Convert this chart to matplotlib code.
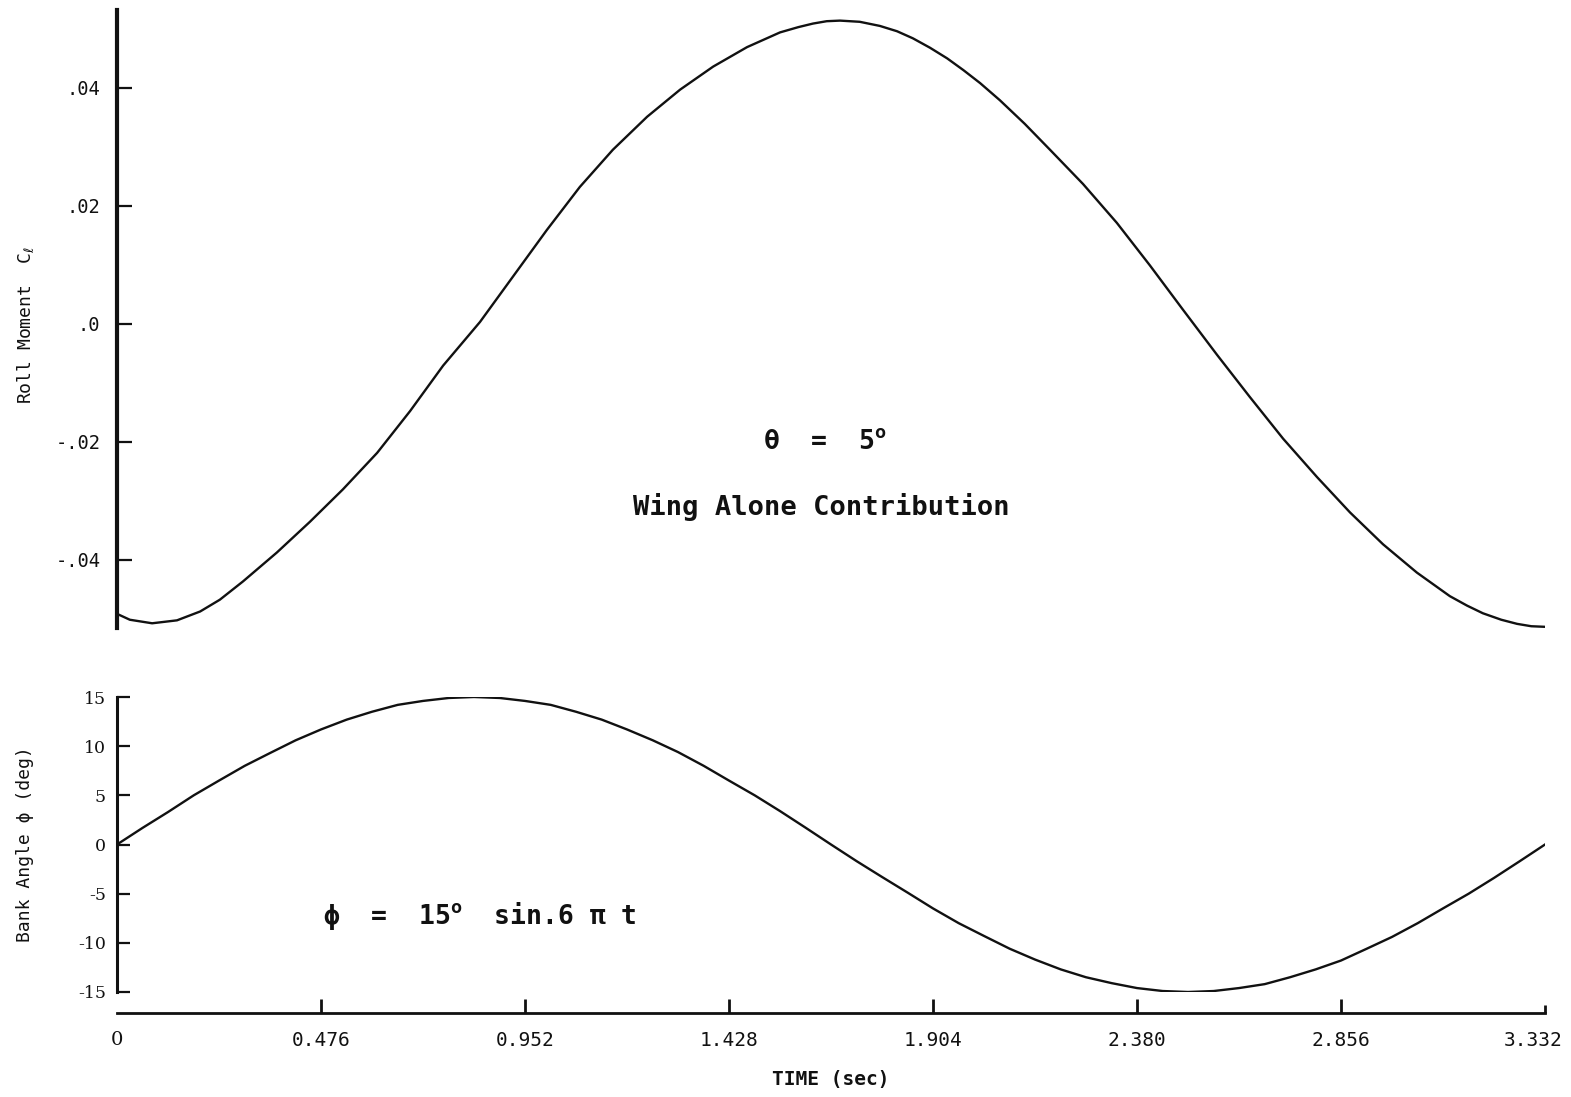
import matplotlib
matplotlib.use("Agg")
import matplotlib.pyplot as plt
from matplotlib.transforms import ScaledTranslation

plt.rcParams['font.family'] = ['DejaVu Sans Mono', 'DejaVu Sans']
plt.rcParams['mathtext.fontset'] = 'dejavusans'

# Roll moment coefficient, wing alone, theta = 5 deg
t_roll = [0.000, 0.030, 0.082, 0.140, 0.194, 0.240, 0.294, 0.373, 0.450, 0.527,
          0.607, 0.684, 0.761, 0.847, 0.924, 1.003, 1.080, 1.157, 1.237, 1.314,
          1.391, 1.470, 1.547, 1.590, 1.624, 1.656, 1.687, 1.733, 1.780, 1.820,
          1.857, 1.897, 1.937, 1.975, 2.014, 2.060, 2.118, 2.177, 2.254, 2.333,
          2.410, 2.487, 2.567, 2.643, 2.721, 2.800, 2.877, 2.954, 3.033, 3.110,
          3.150, 3.187, 3.230, 3.267, 3.300, 3.332]
cl_roll = [-0.0492, -0.0502, -0.0508, -0.0503, -0.0488, -0.0468, -0.0437, -0.0388, -0.0336, -0.0281,
           -0.0219, -0.0148, -0.0071, 0.0003, 0.0080, 0.0159, 0.0232, 0.0295, 0.0351, 0.0397,
           0.0436, 0.0469, 0.0494, 0.0503, 0.0509, 0.0513, 0.0514, 0.0512, 0.0505, 0.0496,
           0.0484, 0.0468, 0.0450, 0.0430, 0.0408, 0.0379, 0.0339, 0.0295, 0.0237, 0.0171,
           0.0099, 0.0024, -0.0053, -0.0124, -0.0195, -0.0260, -0.0320, -0.0374, -0.0422, -0.0462,
           -0.0478, -0.0491, -0.0502, -0.0509, -0.0513, -0.0514]

# Bank angle history (deg)
t_bank = [0.000, 0.060, 0.119, 0.179, 0.238, 0.298, 0.357, 0.417, 0.476, 0.536,
          0.595, 0.655, 0.714, 0.774, 0.833, 0.893, 0.952, 1.012, 1.071, 1.131,
          1.190, 1.250, 1.309, 1.369, 1.428, 1.488, 1.547, 1.607, 1.666, 1.726,
          1.785, 1.845, 1.904, 1.964, 2.023, 2.083, 2.142, 2.202, 2.261, 2.321,
          2.380, 2.440, 2.499, 2.559, 2.618, 2.678, 2.737, 2.797, 2.856, 2.916,
          2.975, 3.035, 3.094, 3.154, 3.213, 3.273, 3.332]
phi_bank = [0.0, 1.7, 3.3, 5.0, 6.5, 8.0, 9.3, 10.6, 11.7, 12.7,
            13.5, 14.2, 14.6, 14.9, 15.0, 14.9, 14.6, 14.2, 13.5, 12.7,
            11.7, 10.6, 9.4, 8.0, 6.5, 5.0, 3.4, 1.7, 0.0, -1.7,
            -3.3, -4.9, -6.5, -8.0, -9.3, -10.6, -11.7, -12.7, -13.5, -14.1,
            -14.6, -14.9, -15.0, -14.9, -14.6, -14.2, -13.5, -12.7, -11.8, -10.6,
            -9.4, -8.0, -6.5, -5.0, -3.4, -1.7, 0.0]

time_ticks = [0, 0.476, 0.952, 1.428, 1.904, 2.380, 2.856, 3.332]
time_labels = ["0", "0.476", "0.952", "1.428", "1.904", "2.380", "2.856", "3.332"]
cl_ticks = [0.04, 0.02, 0.0, -0.02, -0.04]
cl_labels = [".04", ".02", ".0", "-.02", "-.04"]
phi_ticks = [15, 10, 5, 0, -5, -10, -15]
phi_labels = ["15", "10", "5", "0", "-5", "-10", "-15"]

W, H = 1571, 1097
fig = plt.figure(figsize=(W / 100, H / 100), dpi=100)


def frame(left, top, right, bottom):
    return [left / W, 1 - bottom / H, (right - left) / W, (bottom - top) / H]


ink = "#111111"

# ---- upper panel: roll moment ----
ax1 = fig.add_axes(frame(117, 10, 1545, 628))
ax1.plot(t_roll, cl_roll, color=ink, lw=1.7, solid_joinstyle="round")
ax1.set_xlim(0, 3.332)
ax1.set_ylim(-0.0516, 0.0532)
for s in ("top", "right", "bottom"):
    ax1.spines[s].set_visible(False)
ax1.spines["left"].set_linewidth(3.0)
ax1.spines["left"].set_color(ink)
ax1.set_xticks([])
ax1.set_yticks(cl_ticks)
ax1.set_yticklabels(cl_labels)
ax1.tick_params(axis="y", direction="in", length=11, width=1.6, pad=12,
                labelsize=13.5, colors=ink)
ax1.set_ylabel(r"Roll Moment  C$_{\ell}$", fontsize=13, color=ink, va="center")
ax1.yaxis.set_label_coords(-0.0644, 0.49)

ax1.text(1.507, -0.0200, r"θ  =  5$^{\mathregular{o}}$", fontsize=19, fontweight="bold",
         ha="left", va="center", color=ink)
ax1.text(1.643, -0.0310, "Wing Alone Contribution", fontsize=19.5, fontweight="bold",
         ha="center", va="center", color=ink)

# ---- lower panel: bank angle ----
ax2 = fig.add_axes(frame(117, 697, 1545, 992))
ax2.plot(t_bank, phi_bank, color=ink, lw=1.7, solid_joinstyle="round")
ax2.set_xlim(0, 3.332)
ax2.set_ylim(-15, 15)
for s in ("top", "right"):
    ax2.spines[s].set_visible(False)
ax2.spines["left"].set_linewidth(2.2)
ax2.spines["left"].set_color(ink)
ax2.spines["bottom"].set_linewidth(2.0)
ax2.spines["bottom"].set_color(ink)
ax2.spines["bottom"].set_position(("outward", 15))

ax2.set_yticks(phi_ticks)
ax2.set_yticklabels(phi_labels, fontfamily="DejaVu Serif")
ax2.tick_params(axis="y", direction="in", length=9, width=1.6, pad=8,
                labelsize=12.5, colors=ink)
ax2.set_xticks(time_ticks)
ax2.set_xticklabels(time_labels)
ax2.tick_params(axis="x", direction="in", length=10, width=2.0, pad=13,
                labelsize=14, colors=ink)
xt = ax2.xaxis.get_major_ticks()
xt[0].tick1line.set_visible(False)
xt[-1].tick1line.set_markersize(6)
xlabels = ax2.get_xticklabels()
xlabels[0].set_fontfamily("DejaVu Serif")
last = xlabels[-1]
last.set_transform(last.get_transform() + ScaledTranslation(-0.12, 0, fig.dpi_scale_trans))

ax2.set_ylabel("Bank Angle ϕ (deg)", fontsize=13, color=ink, va="center")
ax2.yaxis.set_label_coords(-0.0644, 0.5)
ax2.set_xlabel("TIME (sec)", fontsize=14, fontweight="bold", color=ink, va="center")
ax2.xaxis.set_label_coords(0.5, -0.298)

ax2.text(0.481, -7.3, r"ϕ  =  15$^{\mathregular{o}}$  sin.6 π t", fontsize=19,
         fontweight="bold", ha="left", va="center", color=ink)

fig.savefig("out.png", dpi=100, facecolor="white")
